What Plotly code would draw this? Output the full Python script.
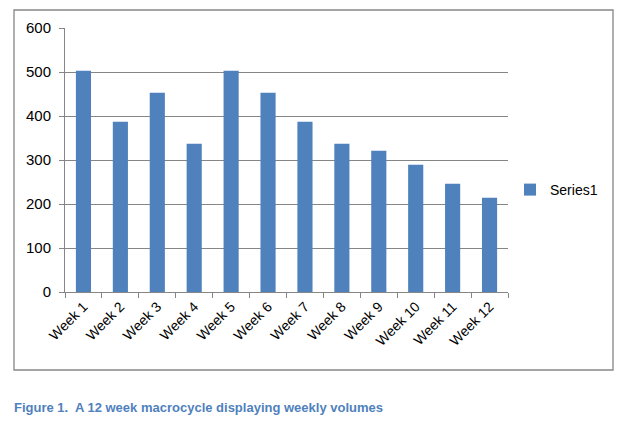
import plotly.graph_objects as go

weeks = ["Week %d" % i for i in range(1, 13)]
volumes = [503, 387, 453, 337, 503, 453, 387, 337, 321, 289, 246, 214]
series_name = "Series1"
y_ticks = [0, 100, 200, 300, 400, 500, 600]
caption = "Figure 1.  A 12 week macrocycle displaying weekly volumes"

W, H = 627, 426
# plot area in pixels (left, right, top, bottom)
L, R, T, B = 65, 508, 28, 292
pw, ph = R - L, B - T

def px_x(x):
    return (x - L) / pw

def px_y(y):
    return (B - y) / ph

grey = "#868686"
font = "Liberation Sans"

fig = go.Figure()
fig.add_trace(go.Bar(x=weeks, y=volumes, name=series_name,
                     marker=dict(color="#4F81BD", line=dict(width=0)),
                     showlegend=True))

fig.update_layout(
    width=W, height=H,
    margin=dict(l=L, r=W - R, t=T, b=H - B, pad=0),
    paper_bgcolor="white", plot_bgcolor="white",
    font=dict(family=font, size=14, color="black"),
    bargap=0.59,
    showlegend=True,
    legend=dict(x=px_x(510), y=px_y(190), xanchor="left", yanchor="middle",
                font=dict(size=14), bgcolor="rgba(0,0,0,0)", itemwidth=30),
)
fig.update_xaxes(type="category", showline=True, linecolor=grey, linewidth=1,
                 ticks="outside", tickson="boundaries", ticklen=5, tickcolor=grey,
                 tickangle=-45, showgrid=False, tickfont=dict(size=14))
fig.update_yaxes(range=[0, 600], tickvals=y_ticks, showline=True, linecolor=grey,
                 linewidth=1, ticks="outside", ticklen=5, tickcolor=grey,
                 showgrid=True, gridcolor=grey, gridwidth=1, zeroline=False,
                 tickfont=dict(size=15), ticklabelstandoff=5)

# chart border
fig.add_shape(type="rect", xref="paper", yref="paper",
              x0=px_x(14), x1=px_x(613), y0=px_y(370), y1=px_y(10),
              line=dict(color=grey, width=1.3), fillcolor="rgba(0,0,0,0)", layer="below")

fig.add_annotation(text="<b>" + caption + "</b>", xref="paper", yref="paper",
                   x=px_x(12), y=px_y(407), xanchor="left", yanchor="middle",
                   showarrow=False, font=dict(size=13, color="#4F81BD", family=font))

fig.write_html("out.html", config={"displayModeBar": False},
               post_script="document.body.style.margin='0';")
